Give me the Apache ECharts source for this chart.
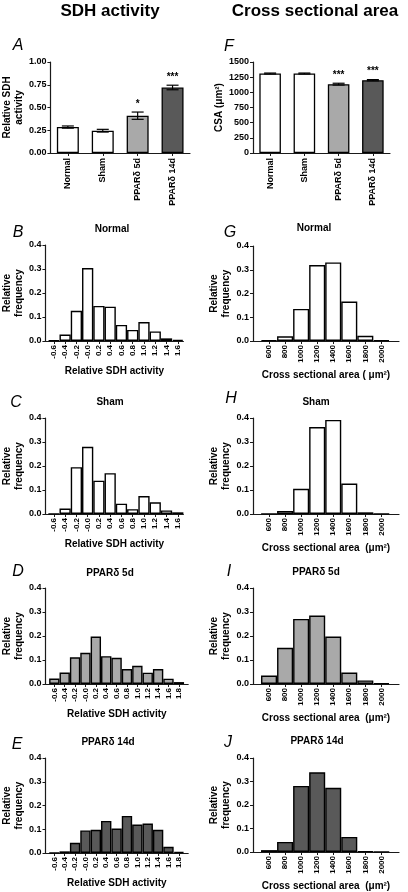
<!DOCTYPE html>
<html><head><meta charset="utf-8">
<script src="https://cdn.jsdelivr.net/npm/echarts@6/dist/echarts.min.js"></script>
<style>html,body{margin:0;padding:0;background:#fff}#c{width:408px;height:892px}</style>
</head><body><div id="c"></div>
<script>
// ---------- data ----------
const groups = ['Normal', 'Sham', 'PPARδ 5d', 'PPARδ 14d'];
const sdhMean = [0.285, 0.245, 0.41, 0.72];
const sdhErr = [0.012, 0.015, 0.04, 0.025];
const sdhStars = ['', '', '*', '***'];
const csaMean = [1310, 1310, 1135, 1200];
const csaErr = [8, 8, 15, 10];
const csaStars = ['', '', '***', '***'];

const sdhBins12 = [-0.6, -0.4, -0.2, 0.0, 0.2, 0.4, 0.6, 0.8, 1.0, 1.2, 1.4, 1.6];
const sdhLabels12 = ['-0.6', '-0.4', '-0.2', '-0.0', '0.2', '0.4', '0.6', '0.8', '1.0', '1.2', '1.4', '1.6'];
const sdhBins13 = [-0.6, -0.4, -0.2, 0.0, 0.2, 0.4, 0.6, 0.8, 1.0, 1.2, 1.4, 1.6, 1.8];
const sdhLabels13 = ['-0.6', '-0.4', '-0.2', '-0.0', '0.2', '0.4', '0.6', '0.8', '1.0', '1.2', '1.4', '1.6', '1.8'];
const sdhNormal = [0.003, 0.027, 0.126, 0.304, 0.146, 0.143, 0.067, 0.046, 0.079, 0.040, 0.011, 0.005];
const sdhSham = [0.001, 0.023, 0.195, 0.280, 0.139, 0.170, 0.043, 0.020, 0.075, 0.049, 0.015, 0.007];
const sdh5d = [0.023, 0.048, 0.111, 0.130, 0.198, 0.116, 0.109, 0.062, 0.076, 0.047, 0.062, 0.022, 0.008];
const sdh14d = [0.001, 0.007, 0.043, 0.095, 0.098, 0.135, 0.103, 0.156, 0.120, 0.124, 0.098, 0.026, 0.004];

const csaBins = [600, 800, 1000, 1200, 1400, 1600, 1800, 2000];
const csaLabels = ['600', '800', '1000', '1200', '1400', '1600', '1800', '2000'];
const csaNormal = [0.003, 0.020, 0.135, 0.320, 0.331, 0.166, 0.022, 0.003];
const csaSham = [0.001, 0.013, 0.105, 0.362, 0.392, 0.127, 0.007, 0.001];
const csa5d = [0.035, 0.151, 0.271, 0.285, 0.198, 0.048, 0.015, 0.003];
const csa14d = [0.008, 0.043, 0.281, 0.339, 0.273, 0.064, 0.003, 0.001];

// ---------- style ----------
const FONT = '"Liberation Sans", Arial, sans-serif';
const WHITE = '#ffffff', GRAY = '#a9a9a9', DARK = '#595959';
const groupFill = [WHITE, WHITE, GRAY, DARK];
const AX = '#1a1a1a';

const grids = [], xAxes = [], yAxes = [], series = [];

function baseY(gi, min, max, interval, dec, name, nameGap) {
  return {
    gridIndex: gi, type: 'value', min: min, max: max, interval: interval,
    name: name, nameLocation: 'middle', nameRotate: 90, nameGap: nameGap,
    nameTextStyle: {fontFamily: FONT, fontWeight: 'bold', fontSize: 10, color: '#000', lineHeight: 12},
    axisLine: {show: true, onZero: false, lineStyle: {color: AX, width: 1.2}},
    axisTick: {show: true, inside: false, length: 3, lineStyle: {color: AX, width: 1}},
    axisLabel: {fontFamily: FONT, fontWeight: 'bold', fontSize: 9, color: '#000', margin: 4,
      formatter: v => v.toFixed(dec)},
    splitLine: {show: false}
  };
}

function errRenderer(stars, capHalf) {
  return function (params, api) {
    const i = api.value(0), m = api.value(1), e = api.value(2);
    const top = api.coord([i, m + e]), bot = api.coord([i, m - e]);
    const x = top[0];
    const st = {stroke: '#000', lineWidth: 1.2};
    const ch = [
      {type: 'line', shape: {x1: x, y1: top[1], x2: x, y2: bot[1]}, style: st},
      {type: 'line', shape: {x1: x - capHalf, y1: top[1], x2: x + capHalf, y2: top[1]}, style: st},
      {type: 'line', shape: {x1: x - capHalf, y1: bot[1], x2: x + capHalf, y2: bot[1]}, style: st}
    ];
    const s = stars[params.dataIndex];
    if (s) ch.push({type: 'text', style: {text: s, x: x, y: top[1] - 3, align: 'center', verticalAlign: 'bottom',
      font: 'bold 10px ' + FONT, fill: '#000'}});
    return {type: 'group', children: ch};
  };
}

function barPanel(gi, rect, means, errs, stars, yMin, yMax, yInt, dec, yName, nameGap) {
  grids.push(Object.assign({show: false}, rect));
  xAxes.push({
    gridIndex: gi, type: 'category', data: groups,
    axisLine: {show: true, onZero: false, lineStyle: {color: AX, width: 1.2}},
    axisTick: {show: true, alignWithLabel: true, length: 3, lineStyle: {color: AX}},
    axisLabel: {rotate: 90, interval: 0, fontFamily: FONT, fontWeight: 'bold', fontSize: 9, color: '#000', margin: 5}
  });
  yAxes.push(baseY(gi, yMin, yMax, yInt, dec, yName, nameGap));
  series.push({
    type: 'bar', xAxisIndex: gi, yAxisIndex: gi, barWidth: '63%',
    data: means.map((v, i) => ({value: v, itemStyle: {color: groupFill[i]}})),
    itemStyle: {borderColor: '#000', borderWidth: 1.3},
    silent: true, animation: false
  });
  series.push({
    type: 'custom', xAxisIndex: gi, yAxisIndex: gi, z: 5,
    data: means.map((v, i) => [i, v, errs[i]]),
    renderItem: errRenderer(stars, 6), silent: true, animation: false
  });
}

function histPanel(gi, rect, bins, labels, vals, xMin, xMax, fill, xName, xNameGap) {
  grids.push(Object.assign({show: false}, rect));
  xAxes.push({
    gridIndex: gi, type: 'value', min: xMin, max: xMax,
    name: xName, nameLocation: 'middle', nameGap: xNameGap,
    nameTextStyle: {fontFamily: FONT, fontWeight: 'bold', fontSize: 10, color: '#000'},
    axisLine: {show: true, onZero: false, lineStyle: {color: AX, width: 1.2}},
    axisTick: {show: true, customValues: bins, length: 3, lineStyle: {color: AX}},
    axisLabel: {customValues: bins, rotate: 90, fontFamily: FONT, fontWeight: 'bold', fontSize: 8, color: '#000', margin: 4,
      formatter: v => { const k = bins.findIndex(b => Math.abs(b - v) < 1e-6); return k >= 0 ? labels[k] : ''; }},
    splitLine: {show: false}
  });
  yAxes.push(baseY(gi, 0, 0.4, 0.1, 1, 'Relative\nfrequency', 17));
  series.push({
    type: 'bar', xAxisIndex: gi, yAxisIndex: gi, barCategoryGap: '0%',
    data: bins.map((b, i) => [b, vals[i]]),
    itemStyle: {color: fill, borderColor: '#000', borderWidth: 1.4},
    silent: true, animation: false
  });
}

const CSA_NAME = 'Cross sectional area  (μm²)';

barPanel(0, {left: 45, top: 62, width: 145, height: 91}, sdhMean, sdhErr, sdhStars, 0, 1, 0.25, 2, 'Relative SDH\nactivity', 23);
barPanel(1, {left: 253, top: 62, width: 137, height: 91}, csaMean, csaErr, csaStars, 0, 1500, 250, 0, 'CSA (μm²)', 26);

histPanel(2, {left: 45, top: 245, width: 138.4, height: 96}, sdhBins12, sdhLabels12, sdhNormal, -0.75, 1.7, WHITE, 'Relative SDH activity', 25);
histPanel(3, {left: 253, top: 246, width: 146, height: 95}, csaBins, csaLabels, csaNormal, 400, 2220, WHITE, 'Cross sectional area ( μm²)', 29);
histPanel(4, {left: 45, top: 418, width: 138.4, height: 96}, sdhBins12, sdhLabels12, sdhSham, -0.75, 1.7, WHITE, 'Relative SDH activity', 25);
histPanel(5, {left: 253, top: 418, width: 146, height: 96}, csaBins, csaLabels, csaSham, 400, 2220, WHITE, CSA_NAME, 29);
histPanel(6, {left: 45.5, top: 588, width: 142.7, height: 96}, sdhBins13, sdhLabels13, sdh5d, -0.77, 1.98, GRAY, 'Relative SDH activity', 25);
histPanel(7, {left: 253, top: 588, width: 146, height: 96}, csaBins, csaLabels, csa5d, 400, 2220, GRAY, CSA_NAME, 29);
histPanel(8, {left: 45.5, top: 758, width: 142.7, height: 95}, sdhBins13, sdhLabels13, sdh14d, -0.77, 1.98, DARK, 'Relative SDH activity', 25);
histPanel(9, {left: 253, top: 758, width: 146, height: 95}, csaBins, csaLabels, csa14d, 400, 2220, DARK, CSA_NAME, 29);

// ---------- free texts ----------
function txt(x, y, s, font) {
  return {type: 'text', x: x, y: y, silent: true,
    style: {text: s, font: font, fill: '#000', align: 'center', verticalAlign: 'middle'}};
}
const HEAD = 'bold 17px ' + FONT, LET = 'italic 16px ' + FONT, PT = 'bold 10px ' + FONT;
const texts = [
  txt(110, 11, 'SDH activity', HEAD), txt(315, 11, 'Cross sectional area', HEAD),
  txt(18, 46, 'A', LET), txt(229, 47, 'F', LET),
  txt(18, 233, 'B', LET), txt(230, 233, 'G', LET),
  txt(16, 403, 'C', LET), txt(231, 399, 'H', LET),
  txt(18, 572, 'D', LET), txt(229, 572, 'I', LET),
  txt(17, 745, 'E', LET), txt(228, 743, 'J', LET),
  txt(112, 229, 'Normal', PT), txt(314, 228, 'Normal', PT),
  txt(110, 402, 'Sham', PT), txt(316, 402, 'Sham', PT),
  txt(110, 573, 'PPARδ 5d', PT), txt(316, 572, 'PPARδ 5d', PT),
  txt(108, 742, 'PPARδ 14d', PT), txt(317, 741, 'PPARδ 14d', PT)
];

const chart = echarts.init(document.getElementById('c'), null, {renderer: 'canvas'});
chart.setOption({
  backgroundColor: '#fff', animation: false,
  grid: grids, xAxis: xAxes, yAxis: yAxes, series: series,
  graphic: {elements: texts}
});
</script></body></html>
